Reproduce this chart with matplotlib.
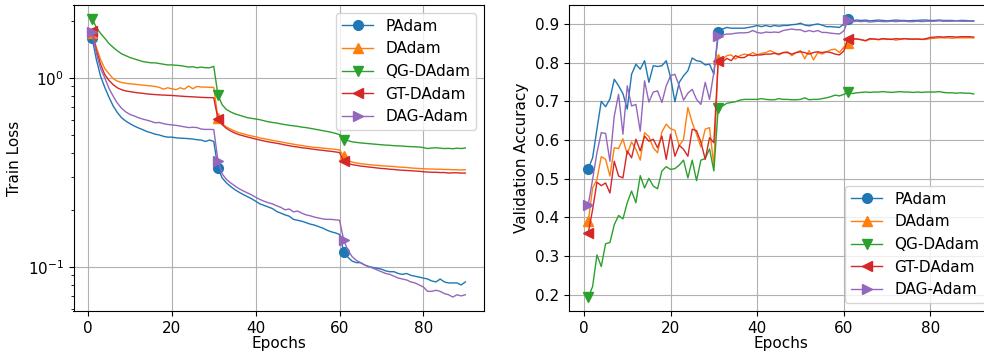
import matplotlib
matplotlib.use("Agg")
import matplotlib.pyplot as plt
import numpy as np

epochs = np.arange(1, 91)
names = ["PAdam", "DAdam", "QG-DAdam", "GT-DAdam", "DAG-Adam"]
markers = ["o", "^", "v", "<", ">"]

# train loss (epochs 1..90)
loss_padam = [1.62, 1.25, 1.02, 0.89, 0.79, 0.71, 0.655, 0.615, 0.59, 0.572,
              0.556, 0.543, 0.532, 0.52, 0.512, 0.503, 0.498, 0.49, 0.485, 0.485,
              0.481, 0.479, 0.478, 0.476, 0.474, 0.47, 0.468, 0.46, 0.468, 0.46,
              0.333, 0.295, 0.278, 0.266, 0.256, 0.248, 0.241, 0.235, 0.229, 0.222,
              0.215, 0.211, 0.207, 0.203, 0.196, 0.192, 0.188, 0.185, 0.178, 0.176,
              0.174, 0.171, 0.168, 0.166, 0.163, 0.16, 0.156, 0.153, 0.151, 0.148,
              0.12, 0.112, 0.107, 0.105, 0.105, 0.102, 0.1, 0.099, 0.098, 0.097,
              0.095, 0.094, 0.094, 0.092, 0.091, 0.092, 0.09, 0.089, 0.088, 0.087,
              0.086, 0.084, 0.083, 0.086, 0.083, 0.082, 0.082, 0.082, 0.08, 0.083]
loss_dadam = [1.72, 1.45, 1.25, 1.12, 1.05, 0.99, 0.96, 0.945, 0.935, 0.93,
              0.925, 0.92, 0.915, 0.91, 0.905, 0.9, 0.89, 0.87, 0.885, 0.875,
              0.865, 0.885, 0.87, 0.905, 0.875, 0.9, 0.893, 0.893, 0.89, 0.89,
              0.612, 0.57, 0.55, 0.535, 0.522, 0.512, 0.505, 0.498, 0.492, 0.487,
              0.48, 0.476, 0.471, 0.466, 0.462, 0.458, 0.453, 0.449, 0.445, 0.441,
              0.438, 0.434, 0.431, 0.428, 0.427, 0.424, 0.422, 0.42, 0.418, 0.415,
              0.384, 0.365, 0.358, 0.354, 0.351, 0.349, 0.347, 0.345, 0.344, 0.342,
              0.341, 0.34, 0.339, 0.337, 0.336, 0.335, 0.333, 0.332, 0.331, 0.33,
              0.329, 0.329, 0.328, 0.328, 0.327, 0.327, 0.326, 0.326, 0.325, 0.326]
loss_qg = [2.05, 1.85, 1.72, 1.62, 1.52, 1.45, 1.39, 1.34, 1.31, 1.28,
           1.26, 1.24, 1.22, 1.21, 1.2, 1.2, 1.19, 1.18, 1.17, 1.17,
           1.165, 1.16, 1.15, 1.14, 1.145, 1.13, 1.14, 1.13, 1.13, 1.15,
           0.81, 0.72, 0.68, 0.66, 0.645, 0.635, 0.625, 0.615, 0.61, 0.605,
           0.6, 0.592, 0.585, 0.58, 0.576, 0.57, 0.565, 0.56, 0.557, 0.553,
           0.548, 0.545, 0.54, 0.535, 0.53, 0.525, 0.52, 0.515, 0.508, 0.5,
           0.47, 0.465, 0.458, 0.455, 0.452, 0.45, 0.448, 0.446, 0.444, 0.442,
           0.44, 0.439, 0.437, 0.436, 0.435, 0.433, 0.432, 0.431, 0.43, 0.427,
           0.422, 0.425, 0.426, 0.424, 0.422, 0.423, 0.421, 0.424, 0.422, 0.425]
loss_gt = [1.76, 1.4, 1.18, 1.04, 0.97, 0.92, 0.885, 0.865, 0.852, 0.845,
           0.838, 0.832, 0.828, 0.822, 0.818, 0.815, 0.812, 0.81, 0.808, 0.806,
           0.803, 0.8, 0.797, 0.795, 0.793, 0.79, 0.788, 0.786, 0.785, 0.784,
           0.605, 0.565, 0.54, 0.523, 0.51, 0.5, 0.493, 0.486, 0.48, 0.474,
           0.468, 0.463, 0.458, 0.454, 0.45, 0.446, 0.441, 0.437, 0.433, 0.43,
           0.426, 0.424, 0.421, 0.418, 0.415, 0.413, 0.41, 0.408, 0.405, 0.402,
           0.361, 0.352, 0.347, 0.344, 0.341, 0.339, 0.337, 0.335, 0.333, 0.331,
           0.33, 0.328, 0.327, 0.325, 0.324, 0.323, 0.322, 0.321, 0.32, 0.318,
           0.317, 0.316, 0.316, 0.315, 0.315, 0.313, 0.314, 0.314, 0.313, 0.313]
loss_dag = [1.74, 1.35, 1.12, 1.0, 0.88, 0.8, 0.735, 0.69, 0.66, 0.64,
            0.628, 0.615, 0.605, 0.597, 0.588, 0.578, 0.58, 0.572, 0.566, 0.563,
            0.56, 0.555, 0.55, 0.545, 0.547, 0.545, 0.535, 0.533, 0.533, 0.532,
            0.364, 0.31, 0.29, 0.278, 0.268, 0.259, 0.252, 0.246, 0.24, 0.233,
            0.227, 0.222, 0.218, 0.215, 0.21, 0.206, 0.2, 0.202, 0.195, 0.197,
            0.192, 0.188, 0.186, 0.183, 0.181, 0.179, 0.178, 0.178, 0.177, 0.176,
            0.138, 0.122, 0.113, 0.108, 0.105, 0.102, 0.1, 0.098, 0.096, 0.094,
            0.092, 0.091, 0.089, 0.087, 0.086, 0.085, 0.083, 0.082, 0.08, 0.078,
            0.074, 0.074, 0.075, 0.074, 0.072, 0.071, 0.069, 0.071, 0.07, 0.071]

# validation accuracy (epochs 1..90)
acc_padam = [0.526, 0.554, 0.628, 0.70, 0.686, 0.706, 0.757, 0.74, 0.72, 0.68,
             0.77, 0.796, 0.783, 0.805, 0.749, 0.792, 0.79, 0.792, 0.805, 0.762,
             0.699, 0.749, 0.766, 0.779, 0.812, 0.805, 0.803, 0.794, 0.796, 0.77,
             0.88, 0.887, 0.891, 0.889, 0.889, 0.889, 0.889, 0.891, 0.893, 0.896,
             0.893, 0.896, 0.893, 0.896, 0.894, 0.896, 0.896, 0.898, 0.899, 0.902,
             0.897, 0.895, 0.898, 0.9, 0.897, 0.893, 0.893, 0.892, 0.891, 0.9,
             0.913, 0.909, 0.91, 0.909, 0.91, 0.908, 0.909, 0.91, 0.909, 0.908,
             0.909, 0.91, 0.909, 0.909, 0.908, 0.909, 0.909, 0.91, 0.91, 0.909,
             0.909, 0.91, 0.909, 0.909, 0.909, 0.908, 0.909, 0.909, 0.908, 0.908]
acc_dadam = [0.39, 0.476, 0.498, 0.557, 0.55, 0.507, 0.58, 0.578, 0.603, 0.563,
             0.595, 0.576, 0.548, 0.619, 0.609, 0.58, 0.567, 0.621, 0.641, 0.629,
             0.625, 0.585, 0.602, 0.684, 0.645, 0.615, 0.582, 0.628, 0.632, 0.533,
             0.81, 0.809, 0.818, 0.82, 0.809, 0.818, 0.822, 0.82, 0.826, 0.82,
             0.824, 0.826, 0.831, 0.826, 0.82, 0.826, 0.828, 0.818, 0.826, 0.831,
             0.81, 0.831, 0.807, 0.826, 0.822, 0.828, 0.833, 0.835, 0.826, 0.84,
             0.852, 0.86, 0.861, 0.86, 0.856, 0.86, 0.861, 0.859, 0.861, 0.86,
             0.861, 0.858, 0.86, 0.862, 0.861, 0.86, 0.861, 0.86, 0.86, 0.862,
             0.863, 0.864, 0.864, 0.864, 0.863, 0.864, 0.864, 0.864, 0.864, 0.864]
acc_qg = [0.194, 0.221, 0.303, 0.273, 0.332, 0.335, 0.381, 0.405, 0.396, 0.438,
          0.468, 0.438, 0.508, 0.476, 0.501, 0.481, 0.474, 0.52, 0.531, 0.524,
          0.526, 0.535, 0.548, 0.502, 0.548, 0.495, 0.548, 0.552, 0.577, 0.52,
          0.684, 0.688, 0.695, 0.697, 0.699, 0.703, 0.705, 0.705, 0.705, 0.705,
          0.707, 0.705, 0.704, 0.704, 0.707, 0.705, 0.705, 0.704, 0.704, 0.705,
          0.709, 0.704, 0.705, 0.705, 0.707, 0.709, 0.712, 0.716, 0.714, 0.718,
          0.723, 0.72, 0.722, 0.723, 0.724, 0.723, 0.724, 0.724, 0.725, 0.724,
          0.723, 0.724, 0.725, 0.724, 0.724, 0.723, 0.724, 0.723, 0.724, 0.724,
          0.724, 0.725, 0.723, 0.722, 0.722, 0.721, 0.722, 0.721, 0.721, 0.719]
acc_gt = [0.36, 0.42, 0.491, 0.482, 0.489, 0.463, 0.545, 0.507, 0.502, 0.572,
          0.554, 0.602, 0.572, 0.61, 0.597, 0.602, 0.58, 0.61, 0.55, 0.615,
          0.558, 0.586, 0.576, 0.558, 0.628, 0.624, 0.595, 0.55, 0.606, 0.593,
          0.805, 0.802, 0.811, 0.805, 0.818, 0.813, 0.813, 0.82, 0.818, 0.82,
          0.82, 0.822, 0.822, 0.824, 0.822, 0.826, 0.826, 0.822, 0.826, 0.828,
          0.826, 0.822, 0.826, 0.828, 0.826, 0.828, 0.826, 0.822, 0.82, 0.83,
          0.862, 0.862, 0.861, 0.859, 0.857, 0.862, 0.861, 0.86, 0.862, 0.861,
          0.86, 0.862, 0.861, 0.862, 0.861, 0.861, 0.861, 0.86, 0.862, 0.865,
          0.866, 0.867, 0.866, 0.867, 0.867, 0.866, 0.867, 0.867, 0.867, 0.866]
acc_dag = [0.433, 0.498, 0.567, 0.619, 0.617, 0.545, 0.662, 0.718, 0.615, 0.74,
           0.688, 0.692, 0.623, 0.753, 0.698, 0.724, 0.727, 0.697, 0.74, 0.766,
           0.77, 0.74, 0.703, 0.721, 0.731, 0.705, 0.692, 0.749, 0.705, 0.775,
           0.868, 0.871, 0.874, 0.874, 0.876, 0.877, 0.877, 0.878, 0.883, 0.878,
           0.876, 0.879, 0.878, 0.879, 0.878, 0.883, 0.885, 0.887, 0.885, 0.885,
           0.88, 0.883, 0.88, 0.883, 0.878, 0.878, 0.876, 0.875, 0.874, 0.882,
           0.909, 0.906, 0.907, 0.906, 0.907, 0.905, 0.906, 0.907, 0.906, 0.906,
           0.907, 0.906, 0.907, 0.907, 0.906, 0.906, 0.907, 0.906, 0.907, 0.907,
           0.907, 0.908, 0.907, 0.907, 0.907, 0.908, 0.907, 0.907, 0.907, 0.907]

losses = [loss_padam, loss_dadam, loss_qg, loss_gt, loss_dag]
accs = [acc_padam, acc_dadam, acc_qg, acc_gt, acc_dag]

plt.rcParams['font.size'] = 11

fig = plt.figure(figsize=(9.84, 3.56), dpi=100)
axL = fig.add_axes([73.5 / 984, 1 - 311 / 356, 410.5 / 984, 306 / 356])
axR = fig.add_axes([569 / 984, 1 - 311 / 356, 424 / 984, 306 / 356])

for i in range(5):
    axL.plot(epochs, losses[i], marker=markers[i], markevery=30, lw=1,
             markersize=7, label=names[i])
    axR.plot(epochs, accs[i], marker=markers[i], markevery=30, lw=1,
             markersize=7, label=names[i])

axL.set_yscale('log')
axL.set_xlabel('Epochs', labelpad=0)
axL.set_ylabel('Train Loss')
axL.grid(True)
axL.legend(loc='upper right')

axR.set_xlabel('Epochs', labelpad=0)
axR.set_ylabel('Validation Accuracy')
axR.grid(True)
axR.legend(loc='lower right')

fig.savefig('out.png', dpi=100)
